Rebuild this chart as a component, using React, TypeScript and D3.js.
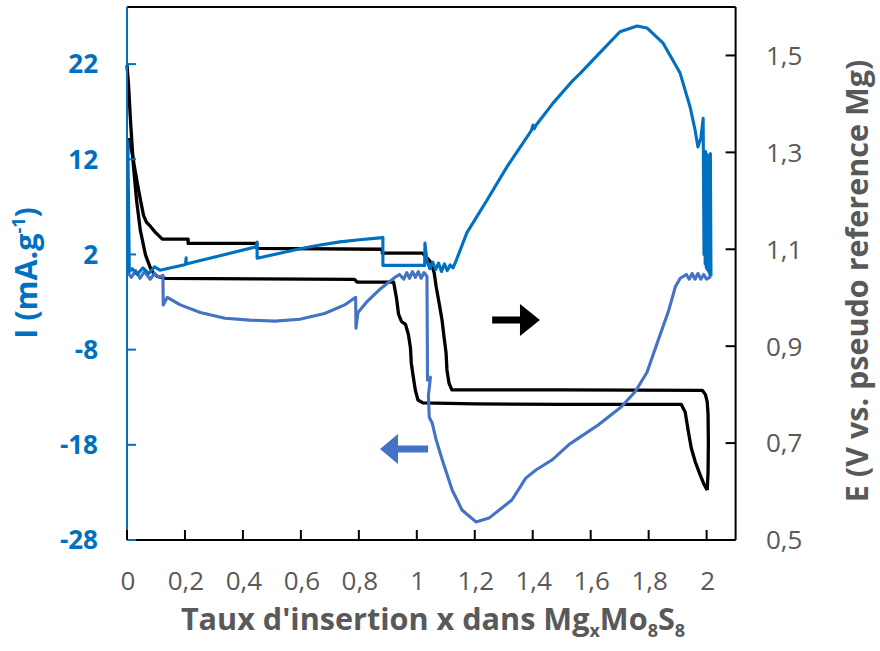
import React from 'react';
import * as d3 from 'd3';

// ---------- DATA ----------
const xTicks = [0, 0.2, 0.4, 0.6, 0.8, 1, 1.2, 1.4, 1.6, 1.8, 2];
const leftTicks = [-28, -18, -8, 2, 12, 22];
const rightTicks = [0.5, 0.7, 0.9, 1.1, 1.3, 1.5];

// Potential E (V) during discharge (insertion, x increasing)
const potentialDischarge: [number, number][] = [
  [0.0, 1.48], [0.005, 1.442], [0.012, 1.366], [0.022, 1.273], [0.033, 1.201], [0.046, 1.139],
  [0.064, 1.088], [0.081, 1.061], [0.091, 1.051], [0.105, 1.044], [0.132, 1.04], [0.45, 1.039],
  [0.785, 1.038], [0.795, 1.032], [0.92, 1.032], [0.93, 0.999], [0.937, 0.966], [0.947, 0.951],
  [0.961, 0.945], [0.971, 0.924], [0.978, 0.897], [0.981, 0.865], [0.988, 0.836], [0.995, 0.809],
  [1.004, 0.789], [1.021, 0.783], [1.2, 0.781], [1.5, 0.78], [1.912, 0.78], [1.926, 0.764],
  [1.936, 0.727], [1.947, 0.69], [1.961, 0.661], [1.978, 0.634], [1.991, 0.615], [2.002, 0.603],
];

// Potential E (V) during charge (deinsertion, x decreasing)
const potentialCharge: [number, number][] = [
  [2.002, 0.603], [2.005, 0.64], [2.006, 0.7], [2.005, 0.76], [2.002, 0.785], [1.996, 0.8],
  [1.985, 0.809], [1.5, 0.81], [1.121, 0.81], [1.111, 0.824], [1.104, 0.851], [1.101, 0.886],
  [1.094, 0.919], [1.087, 0.954], [1.077, 0.989], [1.067, 1.022], [1.06, 1.051], [1.05, 1.072],
  [1.033, 1.084], [1.019, 1.092], [0.881, 1.092], [0.881, 1.1], [0.448, 1.102], [0.448, 1.112],
  [0.211, 1.112], [0.211, 1.121], [0.122, 1.121], [0.098, 1.135], [0.081, 1.147], [0.067, 1.156],
  [0.057, 1.17], [0.05, 1.191], [0.04, 1.222], [0.029, 1.259], [0.019, 1.294], [0.012, 1.314],
  [0.005, 1.329],
];

// Current I (mA/g) during discharge
const currentDischarge: [number, number][] = [
  [0.003, 0.1], [0.015, -0.4], [0.03, 0.3], [0.045, -0.5], [0.06, 0.2], [0.08, -0.6], [0.095, 0.0],
  [0.11, -0.4], [0.124, -0.2], [0.125, -3.3], [0.139, -2.5], [0.184, -3.3], [0.253, -4.1],
  [0.338, -4.7], [0.424, -4.9], [0.51, -5.0], [0.596, -4.8], [0.682, -4.2], [0.751, -3.3],
  [0.789, -2.5], [0.79, -5.75], [0.797, -4.1], [0.83, -2.9], [0.875, -1.6], [0.908, -0.8],
  [0.925, -0.4], [0.94, -0.1], [0.955, -0.6], [0.965, 0.1], [0.975, -0.5], [0.985, 0.2],
  [0.995, -0.4], [1.005, 0.2], [1.015, -0.5], [1.025, 0.1], [1.035, -0.3], [1.037, -11.2],
  [1.047, -10.9], [1.04, -12.8], [1.043, -15.1], [1.053, -15.7], [1.067, -17.5], [1.088, -19.6],
  [1.122, -22.75], [1.156, -24.85], [1.204, -26.1], [1.249, -25.7], [1.328, -23.8], [1.376, -21.5],
  [1.411, -20.65], [1.466, -19.6], [1.524, -18.0], [1.558, -17.3], [1.627, -15.9], [1.706, -14.0],
  [1.754, -12.4], [1.794, -10.4], [1.833, -7.0], [1.868, -4.0], [1.892, -1.4], [1.909, -0.5],
  [1.93, -0.1], [1.94, -0.6], [1.95, 0.0], [1.96, -0.6], [1.97, 0.0], [1.98, -0.6], [1.99, -0.1],
  [2.0, -0.6], [2.015, -0.3],
];

// Current I (mA/g) during charge
const currentCharge: [number, number][] = [
  [2.015, -0.3], [2.013, 12.6], [2.011, -0.1], [2.009, 12.4], [2.007, 0.2], [2.005, 12.2],
  [2.003, 0.4], [2.001, 12.5], [1.999, 0.6], [1.997, 12.8], [1.995, 1.0], [1.993, 12.6],
  [1.991, 2.0], [1.988, 16.3], [1.98, 14.2], [1.97, 13.3], [1.96, 15.1], [1.943, 17.5],
  [1.908, 21.1], [1.85, 24.2], [1.794, 25.8], [1.76, 26.0], [1.701, 25.4], [1.632, 23.2],
  [1.563, 21.0], [1.539, 20.3], [1.47, 17.9], [1.412, 15.6], [1.405, 15.2], [1.401, 15.6],
  [1.395, 15.0], [1.311, 11.2], [1.242, 7.7], [1.173, 4.3], [1.135, 1.3], [1.125, 0.6],
  [1.115, 0.9], [1.105, 0.3], [1.095, 1.0], [1.085, 0.2], [1.075, 1.1], [1.065, 0.4],
  [1.055, 1.2], [1.045, 0.5], [1.035, 1.3], [1.028, 3.2], [1.027, 0.85], [0.883, 0.85],
  [0.883, 3.8], [0.873, 3.74], [0.802, 3.55], [0.735, 3.32], [0.666, 3.0], [0.597, 2.59],
  [0.449, 1.6], [0.449, 3.3], [0.446, 2.8], [0.204, 1.0], [0.204, 1.65], [0.202, 0.95],
  [0.114, 0.35], [0.095, 0.7], [0.075, 0.0], [0.055, 0.6], [0.035, -0.1], [0.018, 0.5],
  [0.008, 0.2], [0.003, 14.0],
];

// Annotation arrows (data units)
const blackArrow = { x0: 1.26, x1: 1.425, e: 0.954 };
const blueArrow = { x0: 1.039, x1: 0.873, i: -18.44 };

// ---------- STYLE ----------
const BLUE = '#0070C0';
const BLUE2 = '#4472C4';
const GREY = '#595959';
const FONT = "'Open Sans', sans-serif";

const fmt = (v: number) => String(Math.round(v * 10) / 10).replace('.', ',');

export default function App() {
  const left = 127, right = 735.6, top = 7, bottom = 540;
  const x = d3.scaleLinear().domain([0, 2.1]).range([left, right]);
  const yL = d3.scaleLinear().domain([-28, 28]).range([bottom, top]);
  const yR = d3.scaleLinear().domain([0.5, 1.6]).range([bottom, top]);

  const lineE = d3.line<[number, number]>().x(d => x(d[0])).y(d => yR(d[1]));
  const lineI = d3.line<[number, number]>().x(d => x(d[0])).y(d => yL(d[1]));

  const ba = blackArrow;
  const by = yR(ba.e);
  const bx0 = x(ba.x0), bx1 = x(ba.x1);
  const blackArrowPath = `M${bx0},${by - 3.5}L${bx1 - 20},${by - 3.5}L${bx1 - 20},${by - 16}L${bx1},${by}L${bx1 - 20},${by + 16}L${bx1 - 20},${by + 3.5}L${bx0},${by + 3.5}Z`;
  const ua = blueArrow;
  const uy = yL(ua.i);
  const ux0 = x(ua.x0), ux1 = x(ua.x1);
  const blueArrowPath = `M${ux0},${uy - 3.5}L${ux1 + 18},${uy - 3.5}L${ux1 + 18},${uy - 15}L${ux1},${uy}L${ux1 + 18},${uy + 15}L${ux1 + 18},${uy + 3.5}L${ux0},${uy + 3.5}Z`;

  return (
    <svg width={880} height={651} style={{ position: 'absolute', left: 0, top: 0, background: '#fff' }}
      fontFamily={FONT}>
      <rect x={0} y={0} width={880} height={651} fill="#fff" />
      {/* series */}
      <path d={lineE(potentialDischarge) || ''} fill="none" stroke="#000" strokeWidth={3.3} strokeLinejoin="round" />
      <path d={lineE(potentialCharge) || ''} fill="none" stroke="#000" strokeWidth={3.3} strokeLinejoin="round" />
      <path d={lineI(currentDischarge) || ''} fill="none" stroke={BLUE2} strokeWidth={3.1} strokeLinejoin="round" />
      <path d={lineI(currentCharge) || ''} fill="none" stroke={BLUE} strokeWidth={3.1} strokeLinejoin="round" />

      {/* frame */}
      <line x1={left} x2={right} y1={top} y2={top} stroke="#000" strokeWidth={2} />
      <line x1={right} x2={right} y1={top} y2={bottom} stroke="#000" strokeWidth={2} />
      <line x1={left} x2={left} y1={top} y2={bottom} stroke={BLUE} strokeWidth={2} />
      <line x1={left} x2={right} y1={bottom} y2={bottom} stroke="#000" strokeWidth={2} />

      {/* left axis */}
      {leftTicks.map(t => (
        <g key={'l' + t}>
          <line x1={left} x2={left + 9} y1={yL(t)} y2={yL(t)} stroke={BLUE} strokeWidth={2} />
          <text x={98} y={yL(t)} dy="0.36em" textAnchor="end" fill={BLUE} fontWeight="bold" fontSize={26}>{t}</text>
        </g>
      ))}
      {/* right axis */}
      {rightTicks.map(t => (
        <g key={'r' + t}>
          <line x1={right - 10} x2={right} y1={yR(t)} y2={yR(t)} stroke="#000" strokeWidth={2} />
          <text x={766} y={yR(t)} dy="0.36em" textAnchor="start" fill={GREY} fontSize={26}>{fmt(t)}</text>
        </g>
      ))}
      {/* bottom axis */}
      {xTicks.map(t => (
        <g key={'b' + t}>
          <line x1={x(t)} x2={x(t)} y1={bottom - 10} y2={bottom} stroke="#000" strokeWidth={2} />
          <text x={x(t) + 1} y={590} textAnchor="middle" fill={GREY} fontSize={26}>{fmt(t)}</text>
        </g>
      ))}

      {/* arrows */}
      <path d={blackArrowPath} fill="#000" />
      <path d={blueArrowPath} fill={BLUE2} />

      {/* titles */}
      <text x={433} y={630} textAnchor="middle" fill={GREY} fontWeight="bold" fontSize={30.6}>
        Taux d'insertion x dans Mg<tspan fontSize={18} dy={7}>x</tspan><tspan dy={-7}>Mo</tspan><tspan fontSize={18} dy={7}>8</tspan><tspan dy={-7}>S</tspan><tspan fontSize={18} dy={7}>8</tspan>
      </text>
      <text transform="translate(37,273) rotate(-90)" textAnchor="middle" fill={BLUE} fontWeight="bold" fontSize={30.5}>
        I (mA.g<tspan fontSize={18} dy={-12}>-1</tspan><tspan dy={12}>)</tspan>
      </text>
      <text transform="translate(868,281) rotate(-90)" textAnchor="middle" fill={GREY} fontWeight="bold" fontSize={30.5}>
        E (V vs. pseudo reference Mg)
      </text>
    </svg>
  );
}
